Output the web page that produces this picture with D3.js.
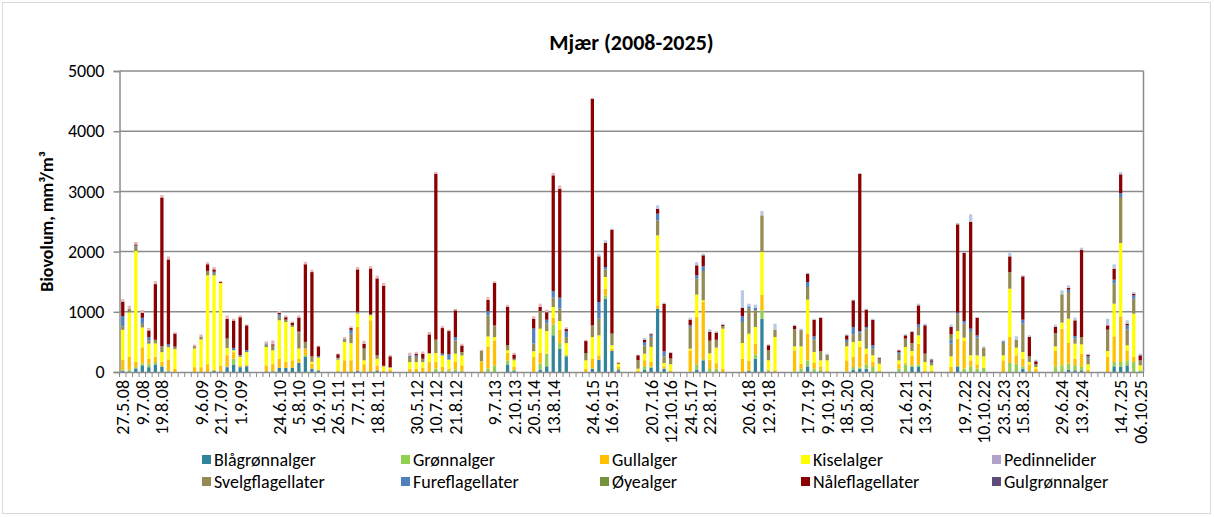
<!DOCTYPE html>
<html>
<head>
<meta charset="utf-8">
<script src="https://cdn.jsdelivr.net/npm/d3@7"></script>
<style>
  body { margin: 0; background: #fff; }
  text { font-family: Carlito, Calibri, "Liberation Sans", Arial, sans-serif; fill: #000; }
</style>
</head>
<body>
<svg id="chart" width="1214" height="517"></svg>
<script>
// Algal groups, in stacking order (bottom to top)
const seriesNames = [
  "Blågrønnalger", "Grønnalger", "Gullalger", "Kiselalger", "Pedinnelider",
  "Svelgflagellater", "Fureflagellater", "Øyealger", "Nåleflagellater", "Gulgrønnalger",
  "Kalkflagellater", "Andre"
];
const seriesColors = [
  "#31849b", "#92d050", "#ffc000", "#ffff00", "#b3a2c7",
  "#948a54", "#4f81bd", "#76923c", "#8b0000", "#604a7b",
  "#e6b9b8", "#b9c9e3"
];
const legendCount = 10;

// Axis labels on every third category
const tickLabels = [
  "27.5.08", "9.7.08", "19.8.08", "", "9.6.09", "21.7.09", "1.9.09", "",
  "24.6.10", "5.8.10", "16.9.10", "26.5.11", "7.7.11", "18.8.11", "",
  "30.5.12", "10.7.12", "21.8.12", "", "9.7.13", "2.10.13", "20.5.14", "13.8.14", "",
  "24.6.15", "16.9.15", "", "20.7.16", "12.10.16", "24.5.17", "22.8.17", "",
  "20.6.18", "12.9.18", "", "17.7.19", "9.10.19", "18.5.20", "10.8.20", "",
  "21.6.21", "13.9.21", "", "19.7.22", "10.10.22", "23.5.23", "15.8.23", "",
  "29.6.24", "13.9.24", "", "14.7.25", "06.10.25"
];
const yTicks = [0, 1000, 2000, 3000, 4000, 5000];

// Biovolume (mm3/m3) per sample; columns follow seriesNames
const y2008 = [
  [20,10,170,500,0,60,170,0,240,0,40,0],
  [10,30,210,740,0,60,0,0,0,0,50,0],
  [60,20,90,1840,0,70,20,0,20,0,40,0],
  [110,30,270,330,0,60,100,0,80,0,50,0],
  [80,50,90,250,0,50,60,0,110,0,40,0],
  [125,40,90,220,0,60,0,0,925,0,50,0],
  [90,10,70,160,0,100,0,0,2470,0,40,0],
  [10,10,190,200,0,20,30,0,1410,0,50,0],
  [0,0,50,330,0,40,0,0,220,0,20,0]
];
const y2009 = [
  [0,0,80,310,0,40,0,0,0,0,25,0],
  [0,0,80,460,0,50,0,0,0,0,35,0],
  [0,0,130,1475,0,75,0,0,110,0,35,0],
  [20,0,20,1565,0,40,20,0,40,0,40,0],
  [10,0,100,1370,0,0,0,0,15,0,15,0],
  [80,10,190,120,0,155,0,0,330,0,55,0],
  [125,95,110,30,0,0,40,0,455,0,30,0],
  [80,0,30,140,0,20,10,0,630,0,30,0],
  [95,0,20,215,0,0,30,0,415,0,15,0]
];
const y2010 = [
  [10,0,100,305,0,40,20,0,0,0,35,0],
  [10,0,120,230,0,80,0,0,20,0,65,0],
  [70,0,150,640,0,60,40,0,20,0,35,0],
  [70,0,95,665,0,40,0,0,40,0,30,0],
  [70,0,125,555,0,30,0,0,40,0,20,0],
  [150,0,70,170,0,270,10,0,235,0,35,0],
  [250,30,110,0,0,110,0,0,1290,0,40,0],
  [55,0,85,30,0,90,0,0,1400,0,40,0],
  [25,0,20,195,0,0,20,0,165,0,15,0]
];
const y2011 = [
  [0,0,20,185,0,20,10,0,60,0,15,0],
  [0,0,195,305,0,45,10,0,0,0,25,0],
  [0,0,195,285,0,155,65,0,30,0,30,0],
  [20,0,730,220,0,20,10,0,705,0,40,0],
  [0,0,130,65,0,195,0,0,80,0,50,0],
  [10,0,850,80,0,20,0,0,760,0,40,0],
  [25,0,85,110,0,55,0,0,1280,0,45,0],
  [0,0,20,70,0,15,0,0,1330,0,45,0],
  [0,0,40,30,0,10,0,0,180,0,25,0]
];
const y2012 = [
  [0,0,55,110,0,85,25,0,0,0,45,0],
  [0,0,55,110,0,85,25,0,25,0,35,0],
  [0,0,70,95,0,55,0,0,85,0,35,0],
  [0,0,165,140,0,10,0,0,310,0,40,0],
  [0,55,110,150,0,222,0,0,2758,0,30,0],
  [0,20,65,190,0,0,30,0,425,0,35,0],
  [0,20,35,150,0,0,90,0,385,0,25,0],
  [10,30,125,140,0,220,55,0,445,0,25,0],
  [0,20,90,165,0,55,0,0,110,0,30,0]
];
const y2013 = [
  [0,0,166,10,0,180,0,0,0,0,14,0],
  [0,55,370,165,0,350,70,0,190,0,45,0],
  [0,110,415,55,0,195,0,0,705,0,28,0],
  null,
  [125,65,125,45,0,85,0,0,635,0,38,0],
  [15,20,50,110,0,25,0,0,70,0,30,0]
];
const y2014 = [
  [0,0,250,95,0,127,250,0,165,0,40,0],
  [40,100,175,405,0,293,0,0,67,0,55,0],
  [95,210,0,375,0,123,65,0,125,0,40,0],
  [610,180,110,180,0,155,110,0,1922,0,40,0],
  [388,94,221,144,0,205,183,0,1810,0,55,0],
  [260,20,0,200,0,100,100,0,33,0,30,0]
];
const y2015 = [
  [0,0,55,139,0,121,0,0,199,0,23,0],
  [55,0,166,359,0,194,0,0,3765,0,18,0],
  [205,0,72,332,0,277,277,0,758,0,0,44],
  [1218,55,111,194,0,122,44,0,399,0,0,44],
  [349,0,40,55,0,194,0,0,1728,0,0,15],
  [30,20,40,50,0,0,0,0,10,0,16,0]
];
const y2016 = [
  [0,0,25,30,0,140,0,0,83,0,0,10],
  [40,55,100,110,0,138,55,0,40,0,0,27],
  [72,20,75,250,0,166,25,0,20,0,0,20],
  [1052,0,55,1163,0,249,111,0,83,0,0,56],
  [55,0,40,55,0,110,83,0,790,0,0,19],
  [0,0,20,110,0,94,0,0,94,0,0,14]
];
const y2017 = [
  [0,10,350,28,0,360,28,0,94,0,0,32],
  [40,88,785,372,0,265,55,0,167,0,0,55],
  [194,20,949,28,0,487,78,0,183,0,0,26],
  [0,50,150,110,0,210,0,0,150,0,0,39],
  [0,55,90,260,0,130,0,0,120,0,0,20],
  [0,0,55,665,0,45,0,0,20,0,0,18]
];
const y2018 = [
  [0,0,221,261,0,349,94,0,144,0,0,288],
  [20,0,170,447,0,415,39,0,0,0,0,44],
  [221,72,177,278,0,276,39,0,0,0,0,55],
  [886,138,261,708,0,609,0,0,0,0,0,72],
  [0,20,20,155,0,166,0,0,83,0,0,16],
  [0,0,30,551,0,122,0,0,0,0,0,100]
];
const y2019 = [
  [0,10,350,66,0,288,0,0,55,0,0,17],
  [0,55,83,288,0,255,0,0,10,0,0,29],
  [94,100,443,565,0,210,83,0,138,0,0,17],
  [0,55,94,183,0,205,55,0,277,0,0,17],
  [0,39,55,100,0,155,0,0,553,0,0,11],
  [0,0,20,174,0,94,0,0,0,0,0,16]
];
const y2020 = [
  [0,10,184,232,0,72,39,0,72,0,0,17],
  [39,44,166,249,0,128,122,0,443,0,0,11],
  [55,20,340,100,0,140,26,0,2614,0,0,11],
  [55,72,178,83,0,332,28,0,288,0,0,16],
  [0,83,83,111,0,111,55,0,426,0,0,17],
  [0,0,20,118,0,83,0,0,11,0,0,17]
];
const y2021 = [
  [0,55,83,55,0,111,28,0,28,0,0,11],
  [0,127,20,268,0,139,0,0,55,0,0,17],
  [83,28,166,72,0,133,0,0,183,0,0,16],
  [83,44,343,139,0,139,44,0,315,0,0,28],
  [0,0,20,146,0,139,0,0,471,0,0,27],
  [0,0,20,90,0,40,20,0,20,20,0,11]
];
const y2022 = [
  [0,0,83,177,0,210,66,89,122,0,0,39],
  [94,0,460,127,0,277,28,0,1467,0,0,22],
  [0,55,460,55,0,233,44,0,1130,0,0,16],
  [0,94,100,83,0,388,55,0,1772,0,0,127],
  [0,55,72,150,0,293,39,0,293,0,0,11],
  [0,72,0,188,0,144,0,0,0,0,0,22]
];
const y2023 = [
  [0,0,194,83,0,205,28,0,0,0,0,16],
  [0,150,431,803,0,277,0,0,260,0,0,56],
  [0,138,139,127,0,133,0,0,0,0,0,55],
  [55,39,127,111,0,471,66,0,720,0,0,17],
  [0,28,100,39,0,94,0,0,321,0,0,27],
  [0,0,55,28,0,50,0,0,39,10,0,23]
];
const y2024 = [
  [0,94,255,77,0,222,0,0,100,0,0,38],
  [0,111,609,100,0,470,0,0,0,0,0,67],
  [39,100,343,404,0,443,39,0,28,0,0,44],
  [28,83,111,249,0,83,44,0,260,0,0,44],
  [28,55,221,155,0,122,0,0,1451,0,0,33],
  [0,0,40,87,0,94,39,0,28,0,0,16]
];
const y2025 = [
  [0,0,249,100,0,354,0,0,72,0,0,111],
  [94,72,426,543,0,332,67,0,183,0,0,71],
  [83,83,759,1218,0,764,66,0,311,0,0,38],
  [111,83,166,83,0,260,72,0,28,0,0,55],
  [0,166,83,720,0,249,55,0,28,0,0,28],
  [0,28,0,83,0,83,0,0,83,0,0,27]
];
const seasons = [y2008, y2009, y2010, y2011, y2012, y2013, y2014, y2015, y2016,
                 y2017, y2018, y2019, y2020, y2021, y2022, y2023, y2024, y2025];

// Categories: each season's samples, two empty slots between seasons
const samples = [];
seasons.forEach((s, i) => {
  if (i > 0) samples.push(null, null);
  s.forEach(r => samples.push(r));
});
const labelEvery = 3;

const svg = d3.select("#chart");
const W = 1214, H = 517;
const plot = { left: 119.5, right: 1143.5, top: 71, bottom: 372 };

// chart-area frame
svg.append("rect").attr("x", 2.5).attr("y", 2.5).attr("width", W - 6).attr("height", H - 6)
  .attr("fill", "#fff").attr("stroke", "#d9d9d9").attr("stroke-width", 1);

const x = d3.scaleBand()
  .domain(d3.range(samples.length))
  .range([plot.left, plot.right])
  .paddingInner(0.5).paddingOuter(0.25);
const y = d3.scaleLinear().domain([0, 5000]).range([plot.bottom, plot.top]);

const gridColor = "#8c8c8c";

// horizontal gridlines
svg.append("g").selectAll("line").data(yTicks.slice(1)).join("line")
  .attr("x1", plot.left).attr("x2", plot.right)
  .attr("y1", d => y(d)).attr("y2", d => y(d))
  .attr("stroke", gridColor).attr("stroke-width", 1.5);

// stacked bars
const stack = d3.stack()
  .keys(d3.range(seriesNames.length))
  .value((row, k) => row ? row[k] : 0);
const layers = stack(samples);

const barG = svg.append("g");
layers.forEach((layer, k) => {
  barG.append("g").attr("fill", seriesColors[k])
    .selectAll("rect")
    .data(layer.map((seg, i) => ({ seg, i })).filter(d => samples[d.i] && d.seg[1] > d.seg[0]))
    .join("rect")
    .attr("x", d => x(d.i))
    .attr("width", x.bandwidth())
    .attr("y", d => y(d.seg[1]))
    .attr("height", d => y(d.seg[0]) - y(d.seg[1]));
});

// plot-area border (right side) and y axis
svg.append("line").attr("x1", plot.right).attr("x2", plot.right)
  .attr("y1", plot.top).attr("y2", plot.bottom)
  .attr("stroke", gridColor).attr("stroke-width", 1.5);

const yAxis = svg.append("g")
  .attr("transform", `translate(${plot.left},0)`)
  .call(d3.axisLeft(y).tickValues(yTicks).tickSize(6).tickPadding(9).tickFormat(d3.format("d")));
yAxis.select(".domain").attr("stroke", gridColor).attr("stroke-width", 1.5);
yAxis.selectAll(".tick line").attr("stroke", gridColor).attr("stroke-width", 1.5);
yAxis.selectAll("text").style("font-size", "18px").style("font-family", null);

// x axis: category boundary ticks
const step = x.step();
const half = (step - x.bandwidth()) / 2;
const boundaries = d3.range(samples.length + 1).map(i =>
  i < samples.length ? x(i) - half : x(samples.length - 1) + x.bandwidth() + half);
svg.append("g").selectAll("line").data(boundaries).join("line")
  .attr("x1", d => d).attr("x2", d => d)
  .attr("y1", plot.bottom).attr("y2", plot.bottom + 5)
  .attr("stroke", gridColor).attr("stroke-width", 1);

const labelIdx = tickLabels.map((_, j) => j * labelEvery);
const xAxis = svg.append("g")
  .attr("transform", `translate(0,${plot.bottom})`)
  .call(d3.axisBottom(x).tickValues(labelIdx).tickSize(0)
    .tickFormat(i => tickLabels[i / labelEvery]));
xAxis.select(".domain").attr("stroke", gridColor).attr("stroke-width", 1.5);
xAxis.selectAll("text")
  .attr("transform", "rotate(-90)")
  .attr("text-anchor", "end")
  .attr("x", -8).attr("y", 0).attr("dy", "0.36em")
  .style("font-size", "18px").style("font-family", null);

// title
svg.append("text")
  .attr("x", (plot.left + plot.right) / 2).attr("y", 50)
  .attr("text-anchor", "middle")
  .style("font-size", "22px").style("font-weight", "bold")
  .text("Mjær (2008-2025)");

// y axis title
svg.append("text")
  .attr("transform", `translate(53,${(plot.top + plot.bottom) / 2}) rotate(-90)`)
  .attr("text-anchor", "middle")
  .style("font-size", "18px").style("font-weight", "bold")
  .text("Biovolum, mm³/m³");

// legend: two rows of five
const legendX = [202, 401, 600, 801, 992];
const legendY = [460, 482];
const leg = svg.append("g");
seriesNames.slice(0, legendCount).forEach((name, k) => {
  const cx = legendX[k % 5], cy = legendY[Math.floor(k / 5)];
  leg.append("rect").attr("x", cx).attr("y", cy - 5).attr("width", 9).attr("height", 9)
    .attr("fill", seriesColors[k]);
  leg.append("text").attr("x", cx + 12).attr("y", cy).attr("dy", "0.35em")
    .style("font-size", "18px").text(name);
});
</script>
</body>
</html>
